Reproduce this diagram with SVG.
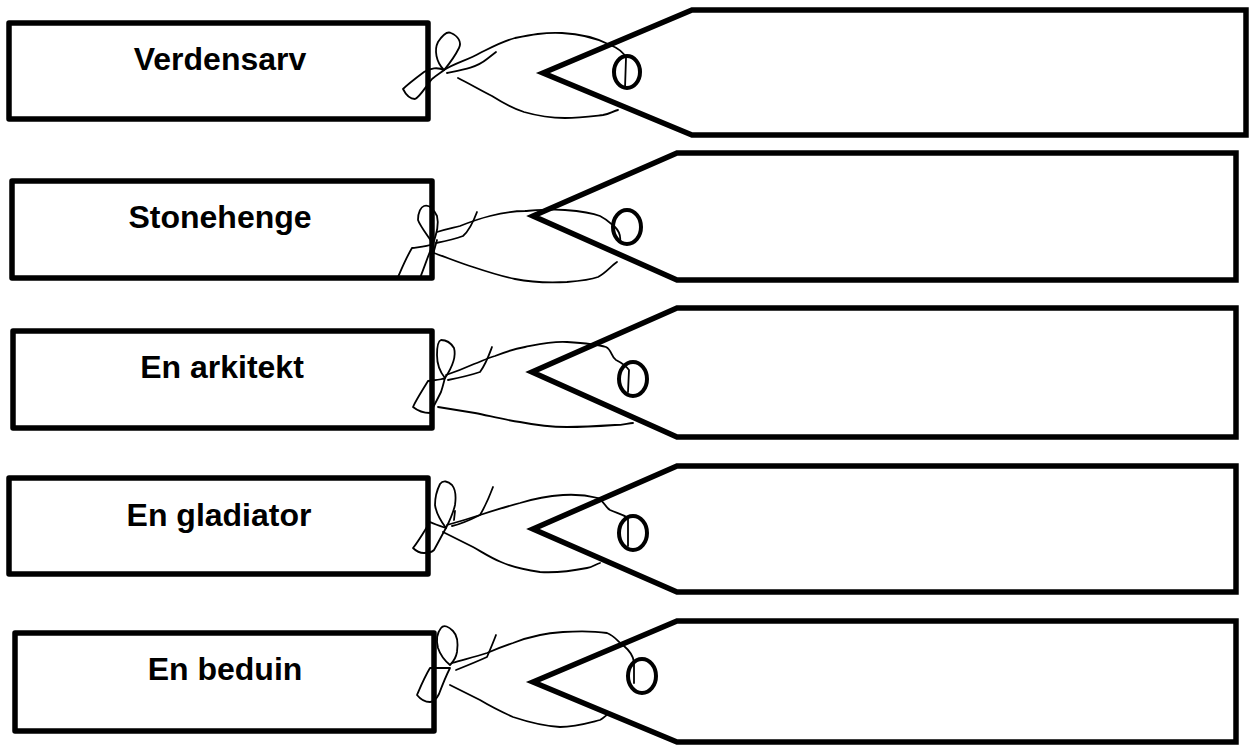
<svg xmlns="http://www.w3.org/2000/svg" width="1250" height="745" viewBox="0 0 1250 745">
<style>
.box{fill:#fff;stroke:#000;stroke-width:5.5;stroke-linejoin:round}
.tag{fill:#fff;stroke:#000;stroke-width:5.5;stroke-linejoin:miter}
.hole{fill:none;stroke:#000;stroke-width:4}
.lbl{font-family:"Liberation Sans",Arial,sans-serif;font-weight:bold;font-size:32px;fill:#000;text-anchor:middle}
.str{fill:none;stroke:#000;stroke-width:1.8;stroke-linejoin:round;stroke-linecap:round}
</style>
<rect width="1250" height="745" fill="#fff"/>

<g id="tag-1"><polygon class="tag" points="543,73 692,10 1246,10 1246,135 692,135"/><ellipse class="hole" cx="627" cy="72" rx="13" ry="16"/></g>
<g id="tag-2"><polygon class="tag" points="533,216 677,153 1236,153 1236,280 677,280"/><ellipse class="hole" cx="627" cy="227" rx="14" ry="17"/></g>
<g id="tag-3"><polygon class="tag" points="532,372 677,308 1236,308 1236,437 677,437"/><ellipse class="hole" cx="633" cy="379" rx="14" ry="17"/></g>
<g id="tag-4"><polygon class="tag" points="533,529 677,466 1236,466 1236,592 677,592"/><ellipse class="hole" cx="633" cy="533" rx="14" ry="17"/></g>
<g id="tag-5"><polygon class="tag" points="533,682 677,621 1236,621 1236,742 677,742"/><ellipse class="hole" cx="642" cy="676" rx="14" ry="17"/></g>

<g id="label-1"><rect class="box" x="9" y="23" width="419" height="96"/><text class="lbl" x="220" y="70">Verdensarv</text></g>
<g id="label-2"><rect class="box" x="12" y="181" width="420" height="97"/><text class="lbl" x="220" y="228">Stonehenge</text></g>
<g id="label-3"><rect class="box" x="13" y="331" width="419" height="97"/><text class="lbl" x="222" y="378">En arkitekt</text></g>
<g id="label-4"><rect class="box" x="9" y="478" width="419" height="96"/><text class="lbl" x="219" y="526">En gladiator</text></g>
<g id="label-5"><rect class="box" x="15" y="633" width="419" height="98"/><text class="lbl" x="225" y="680">En beduin</text></g>

<g id="connectors">
<!-- string 1 -->
<path class="str" d="M444,70 C436,62 434,50 438,42 C442,36 447,31 451,33 C458,36 462,42 459,48 C455,56 450,63 444,70"/>
<path class="str" d="M444,70 C438,67 430,68 424,72 C416,78 408,84 403,89 C406,95 410,99 415,99 C420,97 426,86 432,79 C438,74 442,72 444,70"/>
<path class="str" d="M444,70 C455,63 468,60 480,53 C492,47 503,41 515,38 C530,35 545,32 562,33 C580,34 596,38 608,44 C618,48 624,52 626,58 L625,88"/>
<path class="str" d="M447,73 C462,70 476,68 487,59 L496,52"/>
<path class="str" d="M458,78 C470,84 480,90 492,96 C503,103 512,108 524,112 C538,116 550,118 565,118 C580,118 594,116 603,115 C610,114 613,111 618,110"/>
<!-- string 2 -->
<path class="str" d="M433,244 C428,236 420,226 418,220 C418,212 421,207 424,206 C430,204 434,210 437,216 C439,224 437,232 433,244"/>
<path class="str" d="M433,244 C426,247 418,247 412,248 C406,258 402,268 398,277 C404,279 412,279 420,278 C424,268 428,256 433,244"/>
<path class="str" d="M437,232 C446,229 452,228 460,226 C470,222 478,219 490,216 C502,213 512,211 525,211 C540,210 552,209 565,210 C578,211 590,212 600,216 C608,220 611,224 615,227 C619,231 621,236 620,242"/>
<path class="str" d="M436,243 C446,241 455,239 463,236 C470,230 474,220 477,212"/>
<path class="str" d="M434,253 C448,258 460,263 473,267 C488,272 500,276 515,279 C530,282 548,283 567,282 C580,281 590,280 598,277 C606,273 611,266 617,262"/>
<path class="str" d="M432,258 L437,240"/>
<!-- string 3 -->
<path class="str" d="M445,378 C440,372 437,364 437,355 C437,347 438,341 441,340 C446,340 451,343 454,348 C456,355 453,366 445,378"/>
<path class="str" d="M445,378 C441,380 434,380 428,381 C422,391 416,400 413,407 C418,411 424,413 430,413 C434,406 438,398 441,392 C443,386 444,381 445,378"/>
<path class="str" d="M446,375 C455,372 465,368 474,364 C482,361 488,358 495,356 C505,352 514,349 525,347 C540,344 552,341 567,342 C582,343 596,344 606,347 C612,350 611,357 616,360 C622,363 626,366 629,370 L628,392"/>
<path class="str" d="M448,380 C458,378 468,376 480,372 C486,364 489,355 492,347"/>
<path class="str" d="M438,407 C450,409 462,411 475,413 C490,416 505,420 520,422 C535,425 550,427 567,427 C585,427 600,426 615,425 C624,425 628,423 633,423"/>
<!-- string 4 -->
<path class="str" d="M446,528 C440,520 436,512 435,505 C435,496 437,490 440,484 C443,480 448,481 452,485 C456,490 456,498 455,505 C453,514 450,520 446,528"/>
<path class="str" d="M446,528 C440,526 434,524 430,522 C424,532 418,542 413,548 C417,552 420,553 424,553 C428,553 432,552 434,550 C438,543 442,535 446,528"/>
<path class="str" d="M447,525 C458,522 468,519 480,515 C492,511 505,507 520,503 C533,499 548,496 563,495 C578,494 590,496 598,498 C604,501 605,507 610,510 C616,513 622,514 628,518 L628,546"/>
<path class="str" d="M452,526 C462,524 470,520 480,515 C486,505 490,495 493,487"/>
<path class="str" d="M443,532 C453,537 463,542 473,547 C482,552 491,558 501,562 C512,567 526,570 540,572 C556,573 572,571 587,568 C593,567 596,564 600,563"/>
<path class="str" d="M455,511 L454,520"/>
<!-- string 5 -->
<path class="str" d="M450,665 C444,660 440,654 438,648 C436,640 437,633 441,628 C444,624 449,627 453,631 C458,636 458,645 457,652 C456,658 453,662 450,665"/>
<path class="str" d="M450,668 C445,668 436,668 430,668 C424,678 420,688 417,695 C421,700 426,702 430,702 C434,702 437,698 439,694 C442,686 446,676 450,668"/>
<path class="str" d="M452,663 C462,660 474,657 487,653 C496,649 504,646 513,643 C528,637 545,633 563,632 C578,631 594,631 607,633 C615,636 618,642 624,646 C630,651 633,655 634,662 L634,683"/>
<path class="str" d="M456,670 C466,666 476,662 487,657 C490,650 493,643 496,635"/>
<path class="str" d="M450,685 C460,690 470,695 480,700 C490,706 502,712 513,717 C528,722 544,726 560,727 C575,727 588,723 600,720 C604,718 605,716 607,715"/>
</g>
</svg>
